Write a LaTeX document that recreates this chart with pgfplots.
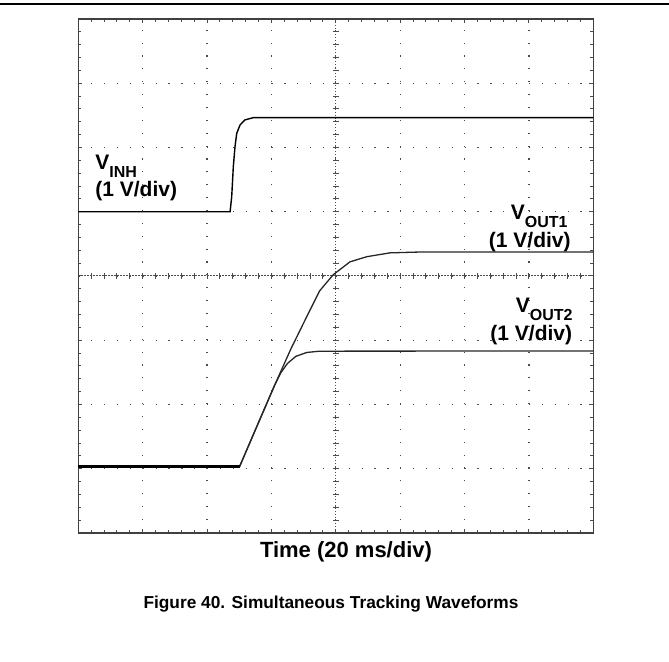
\documentclass[border=0pt]{standalone}
\usepackage{fontspec}
\setmainfont{Liberation Sans}
\usepackage{pgfplots}
\pgfplotsset{compat=1.18}
\begin{document}
\begin{tikzpicture}
\useasboundingbox (-39.15pt,-64.5pt) rectangle (295.35pt,266.5pt);
\draw[line width=0.7pt] (-39.15pt,264.5pt) -- (295.35pt,264.5pt);
% centre crosshair of the scope screen
\begin{scope}[x=32.1875pt,y=32.125pt]
\draw[black!70,line width=0.5pt,dash pattern=on 0.6pt off 0.9pt] (4,0)--(4,8);
\draw[black!70,line width=0.5pt,dash pattern=on 0.6pt off 0.9pt] (0,4)--(8,4);
\foreach \i in {1,...,39} {
  \draw[black!70,line width=0.5pt] (\i*0.2,4) +(0,-1.5pt) -- +(0,1.5pt);
  \draw[black!70,line width=0.5pt] (4,\i*0.2) +(-1.5pt,0) -- +(1.5pt,0);
}
\end{scope}
\begin{axis}[
  at={(0pt,0pt)}, anchor=south west,
  scale only axis, width=257.5pt, height=257pt,
  xmin=0, xmax=8, ymin=0, ymax=8,
  xtick={0,...,8}, ytick={0,...,8},
  xticklabels={}, yticklabels={},
  minor tick num=4,
  major tick length=2pt, minor tick length=1.5pt,
  every tick/.style={black!70, line width=0.5pt},
  grid=major,
  major grid style={black!70, line width=0.6pt, dash pattern=on 0.6pt off 5.838pt},
  axis line style={black!75, line width=0.75pt},
  clip=false,
]
% V_INH
\addplot[black, line width=0.7pt] coordinates {
 (0,5.0) (2.358,5.0) (2.383,5.234) (2.408,5.70) (2.434,6.01) (2.461,6.22)
 (2.512,6.35) (2.590,6.43) (2.718,6.464) (8,6.464)};
% V_OUT1
\addplot[black!85, line width=0.65pt] coordinates {
 (0,1.035) (2.506,1.035) (2.80,1.72) (3.05,2.30) (3.30,2.86) (3.55,3.37)
 (3.75,3.77) (3.96,4.02) (4.22,4.22) (4.48,4.30) (4.84,4.36) (5.3,4.373) (8,4.373)};
% V_OUT2
\addplot[black!85, line width=0.65pt] coordinates {
 (0,1.035) (2.506,1.035) (2.80,1.72) (3.05,2.30) (3.15,2.50) (3.25,2.64)
 (3.38,2.75) (3.55,2.81) (3.75,2.83) (8,2.833)};
% overlapping low level of both outputs
\addplot[black, line width=1.2pt] coordinates {(0,1.035) (2.506,1.035)};
\end{axis}
\begin{scope}[font=\fontsize{10.5}{12}\selectfont\bfseries]
\node[anchor=base west, inner sep=0pt] at (8.35pt,181.5pt) {V\raisebox{-4pt}{\fontsize{8}{9}\selectfont INH}};
\node[anchor=base west, inner sep=0pt] at (8.35pt,168pt) {(1 V/div)};
\node[anchor=base east, inner sep=0pt] at (244.85pt,156.5pt) {V\raisebox{-4pt}{\fontsize{8}{9}\selectfont OUT1}};
\node[anchor=base east, inner sep=0pt] at (246.35pt,142.5pt) {(1 V/div)};
\node[anchor=base east, inner sep=0pt] at (247.35pt,110pt) {V\raisebox{-4pt}{\fontsize{8}{9}\selectfont OUT2}};
\node[anchor=base east, inner sep=0pt] at (247.1pt,96pt) {(1 V/div)};
\end{scope}
\node[anchor=base, inner sep=0pt, font=\fontsize{11}{13}\selectfont\bfseries] at (133.85pt,-12.5pt) {Time (20 ms/div)};
\node[anchor=base, inner sep=0pt, font=\fontsize{8.65}{10}\selectfont\bfseries] at (126.35pt,-38pt) {Figure 40. Simultaneous Tracking Waveforms};
\end{tikzpicture}
\end{document}
